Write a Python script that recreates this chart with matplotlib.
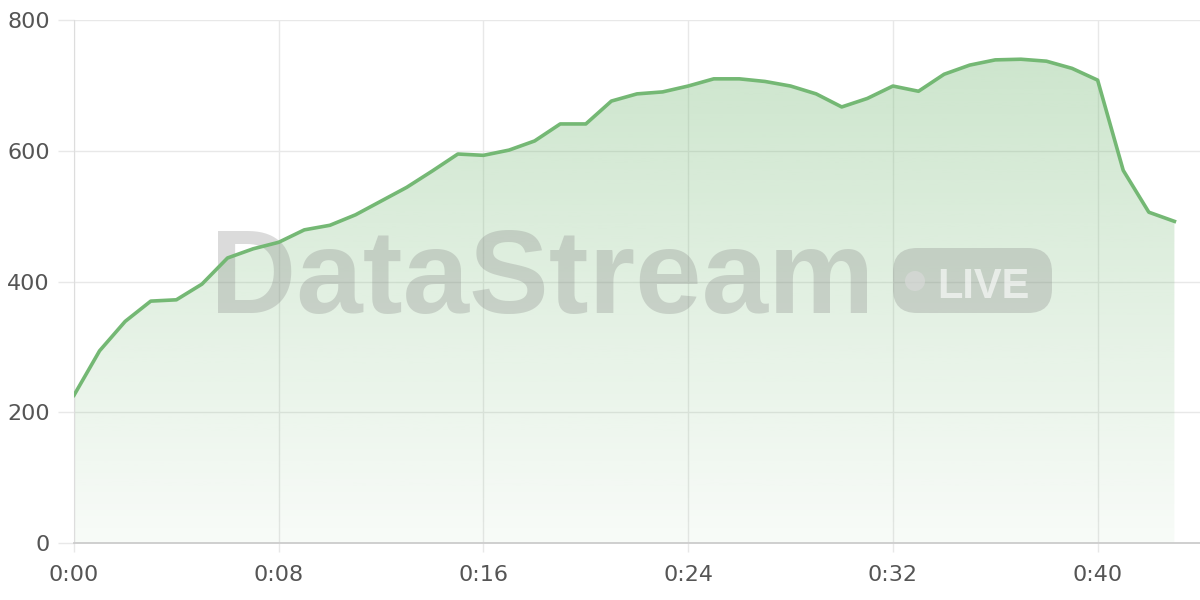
import numpy as np
import matplotlib
matplotlib.use("Agg")
import matplotlib.pyplot as plt
from matplotlib.patches import FancyBboxPatch, Circle
from matplotlib.ticker import FuncFormatter

## values, one point per minute
minutes = list(range(44))
values = [226, 294, 339, 370, 372, 396, 436, 450, 460, 479,
          486, 502, 523, 544, 569, 595, 593, 601, 615, 641,
          641, 676, 687, 690, 699, 710, 710, 706, 699, 687,
          667, 680, 699, 691, 717, 731, 739, 740, 737, 726,
          708, 570, 506, 492]
x_ticks = [0, 8, 16, 24, 32, 40]
y_ticks = [0, 200, 400, 600, 800]

line_color = '#74b874'
grid_color = '#e8e8e8'

fig = plt.figure(figsize=(12, 6), dpi=100)
ax = fig.add_axes([74/1200, 57/600, 1126/1200, 523/600])
ax.set_xlim(0, 44)
ax.set_ylim(0, 800)

# gradient fill under the line
x = np.array(minutes)
y = np.array(values)
poly = ax.fill_between(x, 0, y, color='none', lw=0)
grad = np.zeros((256, 1, 4))
rgb = matplotlib.colors.to_rgb(line_color)
grad[:, 0, :3] = rgb
grad[:, 0, 3] = np.linspace(0.36, 0.05, 256)
img = ax.imshow(grad, extent=[x.min(), x.max(), 0, y.max()], origin='upper',
                aspect='auto', zorder=1)
img.set_clip_path(poly.get_paths()[0], transform=ax.transData)

ax.plot(x, y, color=line_color, lw=2.6, zorder=4, solid_joinstyle='round')

# watermark
ax.text(0.1208, 0.44, 'DataStream', transform=ax.transAxes,
        fontsize=86, fontweight='bold', family='Liberation Sans',
        color='#808080', alpha=0.28, ha='left', va='baseline', zorder=3)
box = FancyBboxPatch((893, 287), 159, 65, boxstyle='round,pad=0,rounding_size=24',
                     transform=None, facecolor='#808080', edgecolor='none',
                     alpha=0.28, zorder=3)
fig.patches.append(box)
dot = Circle((915, 319), 10, transform=None, facecolor='white', alpha=0.6,
             edgecolor='none')
fig.patches.append(dot)
fig.text(937/1200, 302/600, 'LIVE', fontsize=30, fontweight='bold',
         family='Liberation Sans', color='white', alpha=0.6,
         ha='left', va='baseline')

# axes styling
ax.set_xticks(x_ticks)
ax.set_yticks(y_ticks)
ax.xaxis.set_major_formatter(FuncFormatter(lambda v, p: '0:%02d' % int(v)))
ax.grid(True, color=grid_color, lw=1, zorder=0)
ax.set_axisbelow(True)
for s in ['top', 'right']:
    ax.spines[s].set_visible(False)
ax.spines['left'].set_color('#dddddd')
ax.spines['bottom'].set_color('#cccccc')
ax.spines['bottom'].set_linewidth(1.3)
ax.tick_params(axis='y', length=11.5, color=grid_color, width=1, pad=6,
               labelsize=16, labelcolor='#555555')
ax.tick_params(axis='x', length=6.5, color=grid_color, width=1, pad=9,
               labelsize=16, labelcolor='#555555')

fig.savefig('out.png', dpi=100)
